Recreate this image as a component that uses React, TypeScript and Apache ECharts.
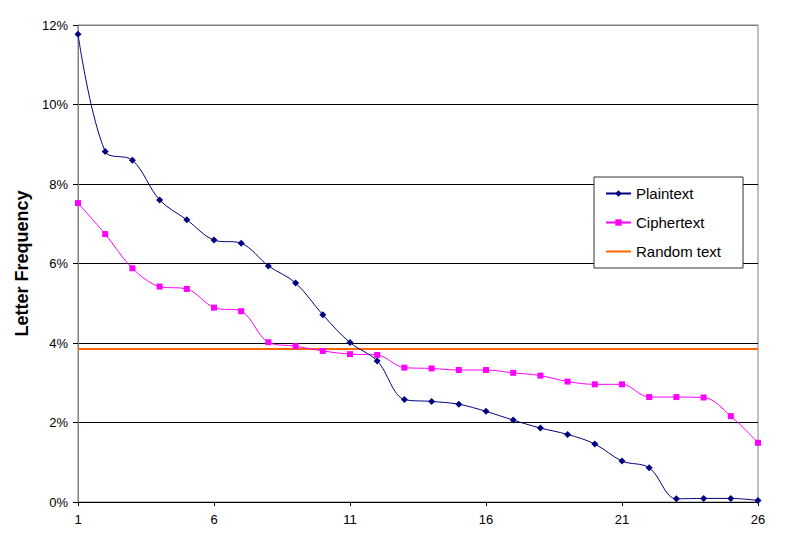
import React, { useEffect, useRef } from "react";
import * as echarts from "echarts";

const letterRanks = Array.from({ length: 26 }, (_, i) => String(i + 1));

const plaintext = [
  11.77, 8.82, 8.6, 7.6, 7.1, 6.59, 6.51, 5.94, 5.51, 4.71, 4.01, 3.55, 2.58,
  2.53, 2.46, 2.28, 2.06, 1.86, 1.7, 1.46, 1.03, 0.86, 0.08, 0.09, 0.09, 0.04,
];

const ciphertext = [
  7.52, 6.74, 5.88, 5.42, 5.36, 4.89, 4.8, 4.02, 3.92, 3.8, 3.72, 3.7, 3.38,
  3.36, 3.32, 3.32, 3.25, 3.18, 3.03, 2.96, 2.96, 2.64, 2.64, 2.63, 2.16, 1.49,
];

const randomText = [
  3.85, 3.85, 3.85, 3.85, 3.85, 3.85, 3.85, 3.85, 3.85, 3.85, 3.85, 3.85, 3.85,
  3.85, 3.85, 3.85, 3.85, 3.85, 3.85, 3.85, 3.85, 3.85, 3.85, 3.85, 3.85, 3.85,
];

const FONT = "'Liberation Sans', Arial, sans-serif";

const App: React.FC = () => {
  const chartRef = useRef<HTMLDivElement>(null);

  useEffect(() => {
    if (!chartRef.current) return;
    const chart = echarts.init(chartRef.current, undefined, { renderer: "svg" });

    chart.setOption({
      animation: false,
      backgroundColor: "#fff",
      textStyle: { fontFamily: FONT },
      grid: {
        left: 78,
        right: 42,
        top: 25,
        bottom: 46,
        show: true,
        borderColor: "#808080",
        borderWidth: 1,
      },
      legend: {
        orient: "vertical",
        left: 594,
        top: 177,
        padding: [9, 22, 9, 11],
        itemGap: 14,
        itemWidth: 25,
        itemHeight: 8,
        borderColor: "#333",
        borderWidth: 1,
        backgroundColor: "#fff",
        textStyle: { fontFamily: FONT, fontSize: 15, color: "#000" },
        data: [
          "Plaintext",
          "Ciphertext",
          { name: "Random text", itemStyle: { opacity: 0 } },
        ],
      },
      xAxis: {
        type: "category",
        data: letterRanks,
        boundaryGap: false,
        axisLine: { lineStyle: { color: "#000", width: 1 } },
        axisTick: { interval: 4, length: 4, lineStyle: { color: "#000" } },
        axisLabel: {
          interval: 4,
          fontFamily: FONT,
          fontSize: 13,
          color: "#000",
          margin: 11,
        },
        splitLine: { show: false },
      },
      yAxis: {
        type: "value",
        min: 0,
        max: 12,
        interval: 2,
        name: "Letter Frequency",
        nameLocation: "middle",
        nameGap: 44,
        nameTextStyle: {
          fontFamily: FONT,
          fontSize: 18,
          fontWeight: "bold",
          color: "#000",
        },
        axisLine: { show: true, lineStyle: { color: "#808080", width: 1 } },
        axisTick: { show: true, length: 5, lineStyle: { color: "#000" } },
        axisLabel: {
          formatter: "{value}%",
          fontFamily: FONT,
          fontSize: 13,
          color: "#000",
          margin: 10,
        },
        splitLine: {
          lineStyle: {
            color: ["#000", "#000", "#000", "#000", "#000", "#000", "#808080"],
            width: 1,
          },
        },
      },
      series: [
        {
          name: "Plaintext",
          type: "line",
          data: plaintext,
          smooth: 0.35,
          symbol: "diamond",
          symbolSize: 7,
          itemStyle: { color: "#000080" },
          lineStyle: { color: "#000080", width: 1 },
          z: 4,
        },
        {
          name: "Ciphertext",
          type: "line",
          data: ciphertext,
          smooth: 0.35,
          symbol: "rect",
          symbolSize: 6,
          itemStyle: { color: "#FF00FF" },
          lineStyle: { color: "#FF00FF", width: 1 },
          z: 3,
        },
        {
          name: "Random text",
          type: "line",
          data: randomText,
          symbol: "none",
          itemStyle: { color: "#FF6600" },
          lineStyle: { color: "#FF6600", width: 2 },
          z: 2,
        },
      ],
    });

    return () => {
      chart.dispose();
    };
  }, []);

  return (
    <div
      ref={chartRef}
      style={{ position: "absolute", left: 0, top: 0, width: 800, height: 548 }}
    />
  );
};

export default App;
